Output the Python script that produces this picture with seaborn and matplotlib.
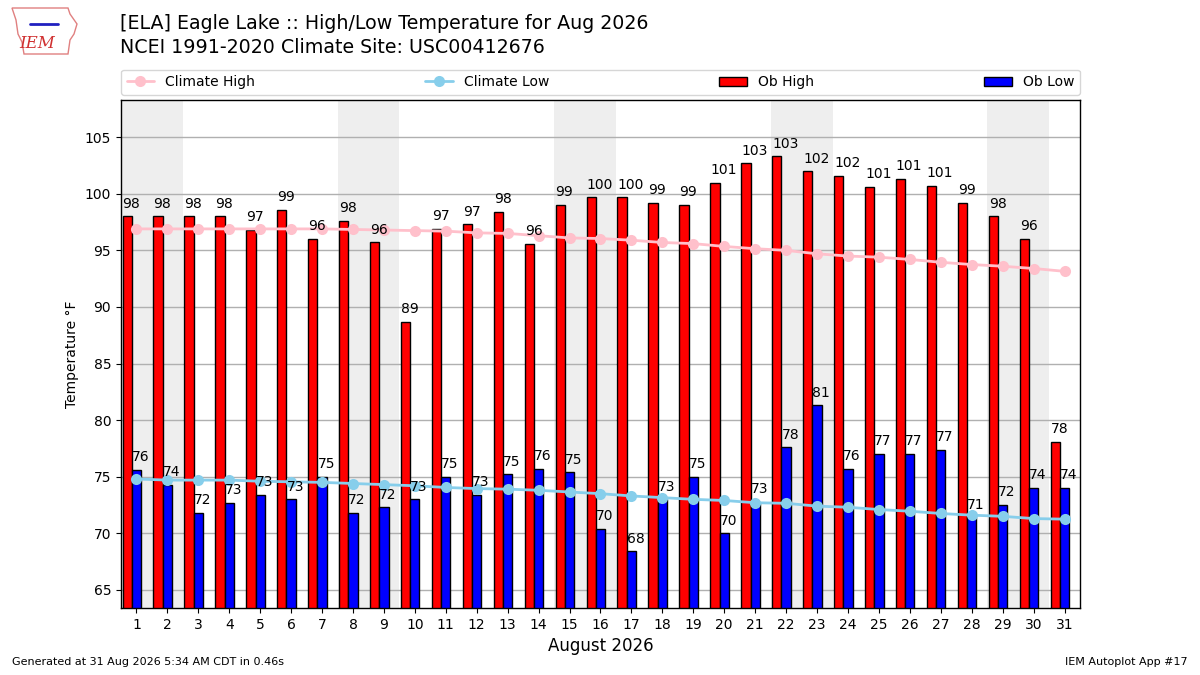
import datetime
import matplotlib
matplotlib.use("Agg")
import matplotlib.pyplot as plt
import numpy as np
import pandas as pd
import seaborn as sns

sns.set_style("ticks")
plt.rcParams['font.family'] = ['DejaVu Sans']
plt.rcParams.update({'text.color': 'black', 'axes.labelcolor': 'black',
                     'xtick.color': 'black', 'ytick.color': 'black',
                     'axes.edgecolor': 'black', 'axes.linewidth': 1.0})

year = 2026
month = 8
days = list(range(1, 32))

ob_high = [98.0, 98.0, 98.0, 98.0, 96.8, 98.6, 96.0, 97.6, 95.7, 88.7,
           96.9, 97.3, 98.4, 95.6, 99.0, 99.7, 99.7, 99.2, 99.0, 101.0,
           102.7, 103.3, 102.0, 101.6, 100.6, 101.3, 100.7, 99.2, 98.0, 96.0,
           78.1]
ob_low = [75.6, 74.3, 71.8, 72.7, 73.4, 73.0, 75.0, 71.8, 72.3, 73.0,
          75.0, 73.4, 75.2, 75.7, 75.4, 70.4, 68.4, 73.0, 75.0, 70.0,
          72.8, 77.6, 81.3, 75.7, 77.0, 77.0, 77.4, 71.4, 72.5, 74.0,
          74.0]
clim_high = [96.9, 96.9, 96.9, 96.9, 96.9, 96.9, 96.9, 96.85, 96.8, 96.75,
             96.7, 96.55, 96.5, 96.3, 96.1, 96.05, 95.9, 95.7, 95.6, 95.35,
             95.15, 95.0, 94.7, 94.5, 94.4, 94.2, 93.95, 93.75, 93.6, 93.4,
             93.15]
clim_low = [74.8, 74.7, 74.7, 74.7, 74.6, 74.55, 74.5, 74.4, 74.3, 74.2,
            74.05, 73.95, 73.9, 73.8, 73.65, 73.5, 73.3, 73.15, 73.0, 72.9,
            72.7, 72.65, 72.4, 72.3, 72.1, 71.95, 71.75, 71.6, 71.5, 71.3,
            71.25]

obs = pd.concat([
    pd.DataFrame({'day': days, 'temp': ob_high, 'kind': 'Ob High'}),
    pd.DataFrame({'day': days, 'temp': ob_low, 'kind': 'Ob Low'}),
])
obs['pos'] = obs['day'] - 0.15
clim = pd.DataFrame({'day': days, 'high': clim_high, 'low': clim_low})

fig = plt.figure(figsize=(12, 6.75), dpi=100)
ax = fig.add_axes([0.1008, 0.0993, 0.7992, 0.7527])
ax.set_axisbelow(True)

# weekend shading
for d in days:
    if datetime.date(year, month, d).weekday() == 5:
        ax.axvspan(d - 0.5, d + 1.5, color='#EEEEEE', zorder=0, lw=0)

sns.barplot(data=obs, x='pos', y='temp', hue='kind', native_scale=True,
            palette={'Ob High': 'red', 'Ob Low': 'blue'}, width=0.6,
            edgecolor='k', linewidth=1, saturation=1, errorbar=None,
            legend=False, ax=ax)
sns.lineplot(data=clim, x='day', y='high', color='pink', marker='o',
             markersize=8, markeredgewidth=0, linewidth=2, ax=ax, zorder=3)
sns.lineplot(data=clim, x='day', y='low', color='skyblue', marker='o',
             markersize=8, markeredgewidth=0, linewidth=2, ax=ax, zorder=3)

# value labels
for cont in ax.containers:
    for rect in cont:
        ax.text(rect.get_x(), rect.get_height() + 0.5,
                f"{rect.get_height():.0f}", ha='left', va='bottom',
                fontsize=10, zorder=5)

ax.set_xlim(0.5, 31.5)
ax.set_ylim(63.4, 108.3)
ax.set_xticks(days)
ax.set_xticklabels([str(d) for d in days])
ax.set_yticks(range(65, 106, 5))
ax.tick_params(labelsize=10)
ax.grid(axis='y', color='#b0b0b0', lw=1)
ax.grid(axis='x', visible=False)
ax.set_xlabel("August 2026", fontsize=12)
ax.set_ylabel("Temperature °F", fontsize=10)

handles = [ax.lines[0], ax.lines[1], ax.containers[0], ax.containers[1]]
labels = ['Climate High', 'Climate Low', 'Ob High', 'Ob Low']
ax.legend(handles, labels, loc='lower left', bbox_to_anchor=(0, 1.01, 1, 0.05),
          mode='expand', ncol=4, borderaxespad=0, fontsize=10, frameon=True)

fig.text(0.1, 0.965, "[ELA] Eagle Lake :: High/Low Temperature for Aug 2026",
         fontsize=13.7, va='center')
fig.text(0.1, 0.93, "NCEI 1991-2020 Climate Site: USC00412676",
         fontsize=13.7, va='center')

# rough logo
iowa_x = np.array([12, 68, 70, 77, 74, 70, 68, 24, 22, 18, 16, 12]) / 1200
iowa_y = 1 - np.array([8, 8, 14, 24, 34, 40, 54, 54, 42, 34, 20, 8]) / 675
fig.add_artist(plt.Polygon(np.column_stack([iowa_x, iowa_y]), closed=True,
                           fill=False, ec='#e08080', lw=1))
fig.add_artist(plt.Line2D([30 / 1200, 58 / 1200], [1 - 24 / 675, 1 - 24 / 675],
                          color='#2020c0', lw=2))
fig.text(37 / 1200, 1 - 44 / 675, "IEM", color='#d03030', fontsize=12,
         family='serif', style='italic', ha='center', va='center')

fig.text(0.01, 0.015, "Generated at 31 Aug 2026 5:34 AM CDT in 0.46s", fontsize=8)
fig.text(0.99, 0.015, "IEM Autoplot App #17", fontsize=8, ha='right')

fig.savefig("out.png", dpi=100)
